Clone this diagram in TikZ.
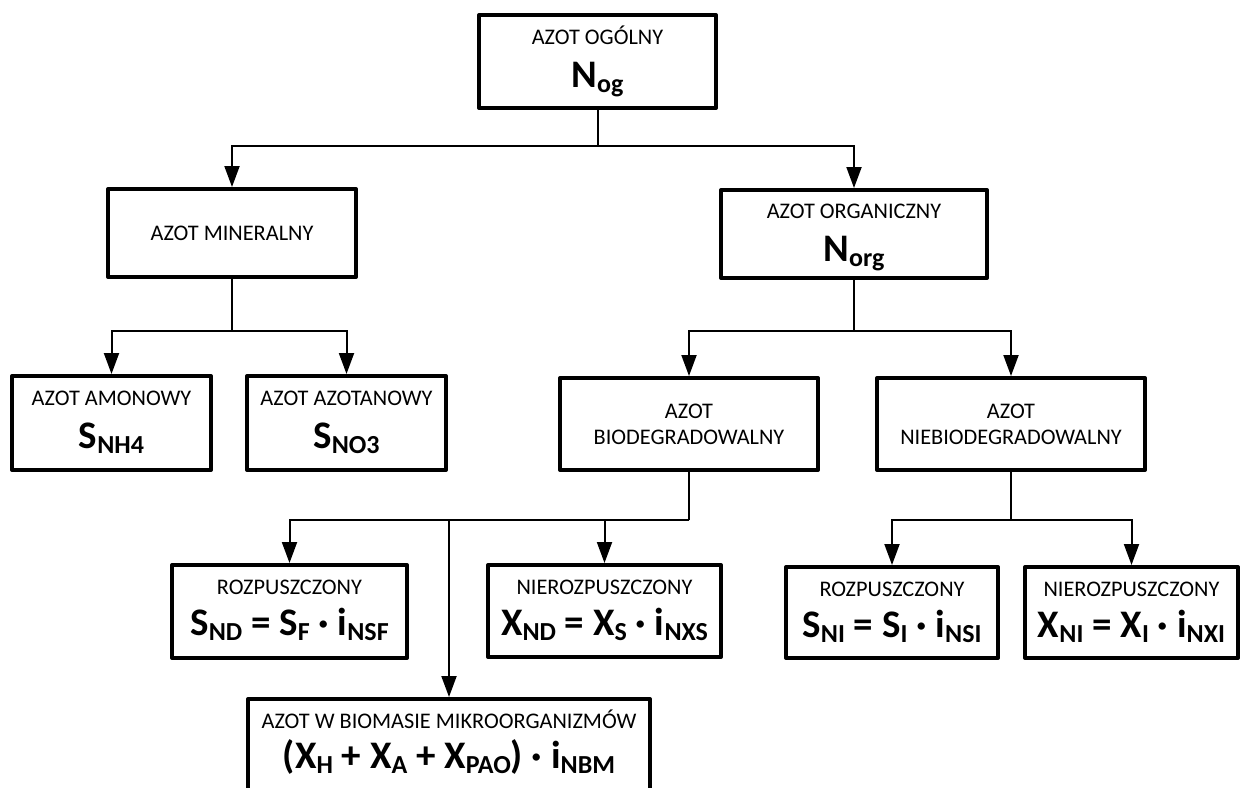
\documentclass[tikz,border=0pt]{standalone}
\usepackage{fontspec}
\setmainfont{Carlito}
\usetikzlibrary{arrows.meta}

% lowered, smaller index text for the bold symbols
\newcommand\dn[1]{\raisebox{-5.5pt}{\fontsize{26}{26}\selectfont #1}}

\tikzset{
  box/.style={draw=black, line width=4pt, fill=white, inner sep=0pt,
              line join=round, rectangle},
  conn/.style={draw=black, line width=2pt},
  arr/.style={conn, -{Triangle[width=15pt,length=21pt]}},
  lbl/.style={anchor=base, inner sep=0pt, font=\fontsize{22.3}{26}\selectfont},
  sym/.style={anchor=base, inner sep=0pt, font=\bfseries\fontsize{39}{42}\selectfont},
  mid/.style={anchor=center, inner sep=0pt, align=center,
              font=\fontsize{22.3}{26}\selectfont},
}

\begin{document}
\begin{tikzpicture}[x=1pt, y=-1pt]
\clip (0,0) rectangle (1241,787);
\fill[white] (0,0) rectangle (1241,787);

% ---- boxes ----
\node[box, minimum width=237, minimum height=93] (og)    at (597.5, 61.5) {};
\node[box, minimum width=248, minimum height=88] (mine)  at (232, 233) {};
\node[box, minimum width=266, minimum height=88] (org)   at (854, 234) {};
\node[box, minimum width=199, minimum height=94] (amon)  at (111.5, 423) {};
\node[box, minimum width=199, minimum height=94] (azot)  at (346.5, 423) {};
\node[box, minimum width=258, minimum height=92] (bio)   at (689, 424) {};
\node[box, minimum width=268, minimum height=92] (nbio)  at (1011, 424) {};
\node[box, minimum width=235, minimum height=93] (rozpa) at (289.5, 611.5) {};
\node[box, minimum width=233, minimum height=92] (niera) at (604.5, 611) {};
\node[box, minimum width=212, minimum height=91] (rozpb) at (892, 612.5) {};
\node[box, minimum width=213, minimum height=91] (nierb) at (1131.5, 612.5) {};
\node[box, minimum width=402, minimum height=93] (bm)    at (449, 745.5) {};

% ---- texts ----
\node[lbl] (og-l) at ([yshift=-31pt]og.north) {AZOT OGÓLNY};
\node[sym] (og-s) at ([yshift=-74pt]og.north) {N\dn{og}};

\node[mid] (mine-l) at (mine.center) {AZOT MINERALNY};

\node[lbl] (org-l) at ([yshift=-30pt]org.north) {AZOT ORGANICZNY};
\node[sym] (org-s) at ([yshift=-73pt]org.north) {N\dn{org}};

\node[lbl] (amon-l) at ([yshift=-31pt]amon.north) {AZOT AMONOWY};
\node[sym] (amon-s) at ([yshift=-74pt]amon.north) {S\dn{NH4}};

\node[lbl] (azot-l) at ([yshift=-31pt]azot.north) {AZOT AZOTANOWY};
\node[sym] (azot-s) at ([yshift=-74pt]azot.north) {S\dn{NO3}};

\node[mid] (bio-l) at (bio.center) {AZOT\\BIODEGRADOWALNY};
\node[mid] (nbio-l) at (nbio.center) {AZOT\\NIEBIODEGRADOWALNY};

\node[lbl] (rozpa-l) at ([yshift=-31pt]rozpa.north) {ROZPUSZCZONY};
\node[sym] (rozpa-s) at ([yshift=-72pt]rozpa.north) {S\dn{ND} = S\dn{F} · i\dn{NSF}};

\node[lbl] (niera-l) at ([yshift=-31pt]niera.north) {NIEROZPUSZCZONY};
\node[sym] (niera-s) at ([yshift=-72pt]niera.north) {X\dn{ND} = X\dn{S} · i\dn{NXS}};

\node[lbl] (rozpb-l) at ([yshift=-31pt]rozpb.north) {ROZPUSZCZONY};
\node[sym] (rozpb-s) at ([yshift=-72pt]rozpb.north) {S\dn{NI} = S\dn{I} · i\dn{NSI}};

\node[lbl] (nierb-l) at ([yshift=-31pt]nierb.north) {NIEROZPUSZCZONY};
\node[sym] (nierb-s) at ([yshift=-72pt]nierb.north) {X\dn{NI} = X\dn{I} · i\dn{NXI}};

\node[lbl] (bm-l) at ([yshift=-31pt]bm.north) {AZOT W BIOMASIE MIKROORGANIZMÓW};
\node[sym] (bm-s) at ([yshift=-71pt]bm.north) {(X\dn{H} + X\dn{A} + X\dn{PAO}) · i\dn{NBM}};

% ---- branch points ----
\coordinate (j0) at (597.5, 146);
\coordinate (j1) at (232, 331);
\coordinate (j2) at (854, 331);
\coordinate (j3) at (689, 520);
\coordinate (j4) at (1011, 520);

% ---- connectors ----
\draw[conn] (og.south) -- (j0);
\draw[arr] (j0) -| (mine.north);
\draw[arr] (j0) -| (org.north);

\draw[conn] (mine.south) -- (j1);
\draw[arr] (j1) -| (amon.north);
\draw[arr] (j1) -| (azot.north);

\draw[conn] (org.south) -- (j2);
\draw[arr] (j2) -| (bio.north);
\draw[arr] (j2) -| (nbio.north);

\draw[conn] (bio.south) -- (j3);
\draw[arr] (j3) -| (rozpa.north);
\draw[arr] (j3) -| (niera.north);
\draw[arr] (j3) -| (bm.north);

\draw[conn] (nbio.south) -- (j4);
\draw[arr] (j4) -| (rozpb.north);
\draw[arr] (j4) -| (nierb.north);
\end{tikzpicture}
\end{document}
